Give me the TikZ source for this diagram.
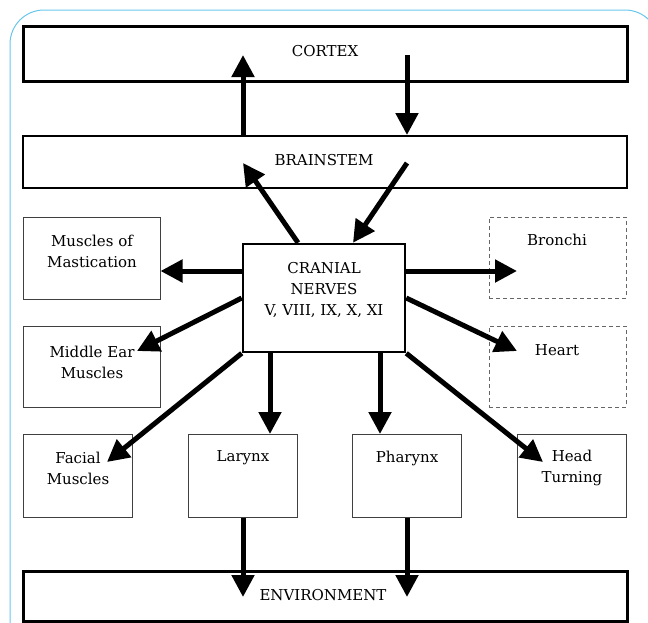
\documentclass[tikz,border=0pt]{standalone}
\usepackage{fontspec}
\setmainfont{DejaVu Serif}
\usetikzlibrary{arrows.meta}
\definecolor{frameblue}{RGB}{105,198,236}
\tikzset{
  box/.style={draw=black!75, line width=1pt, fill=white, inner sep=0pt},
  dashbox/.style={box, draw=black!60, dash pattern=on 4pt off 3pt},
  txt/.style={align=center, inner sep=0pt, font=\fontsize{15}{21}\selectfont},
  arr/.style={line width=5pt, -{Triangle[length=22pt,width=22pt]}}
}

\begin{document}
\begin{tikzpicture}[x=1pt,y=-1pt]
\useasboundingbox (0,0) rectangle (648,622);
\clip (0,0) rectangle (648,622);
\draw[frameblue, line width=1pt, rounded corners=34pt] (10,10) rectangle (659,700);

\node[box, draw=black, line width=3pt, minimum width=604pt, minimum height=55pt] (cortex) at (325,54) {};
\node[box, draw=black, line width=2pt, minimum width=604pt, minimum height=52pt] (bs) at (325,162) {};
\node[box, draw=black, line width=2.5pt, minimum width=162pt, minimum height=108pt] (cn) at (324,298) {};
\node[box, minimum width=137pt, minimum height=82pt] (ms) at (91.5,258) {};
\node[box, minimum width=137pt, minimum height=81pt] (me) at (91.5,366.5) {};
\node[dashbox, minimum width=137pt, minimum height=81pt] (br) at (557.5,257.5) {};
\node[dashbox, minimum width=137pt, minimum height=81pt] (ht) at (557.5,366.5) {};
\node[box, minimum width=109pt, minimum height=83pt] (fm) at (77.5,475.5) {};
\node[box, minimum width=109pt, minimum height=83pt] (lx) at (242.5,475.5) {};
\node[box, minimum width=109pt, minimum height=83pt] (ph) at (406.5,475.5) {};
\node[box, minimum width=109pt, minimum height=83pt] (hd) at (571.5,475.5) {};
\node[box, draw=black, line width=3pt, minimum width=604pt, minimum height=50pt] (env) at (325,596) {};

\node[txt] (cortex-t) at (325,51) {CORTEX};
\node[txt] (bs-t) at (324,160) {BRAINSTEM};
\node[txt] (cn-t) at (324,290) {CRANIAL\\NERVES\\V, VIII, IX, X, XI};
\node[txt] (ms-t) at (92,251) {Muscles of\\Mastication};
\node[txt] (me-t) at (92,362) {Middle Ear\\Muscles};
\node[txt] (br-t) at (557,240) {Bronchi};
\node[txt] (ht-t) at (557,350) {Heart};
\node[txt] (fm-t) at (78,468) {Facial\\Muscles};
\node[txt] (lx-t) at (243,458) {Larynx};
\node[txt] (ph-t) at (407,458) {Pharynx};
\node[txt] (hd-t) at (572,468) {Head\\Turning};
\node[txt] (env-t) at (323,595) {ENVIRONMENT};

\coordinate (up) at (243,55);
\coordinate (down) at (407,55);
\coordinate (bsL) at (243,163);
\coordinate (bsR) at (407,163);
\coordinate (cW) at ([yshift=27pt]cn.west);
\coordinate (cE) at ([yshift=27pt]cn.east);
\coordinate (meT) at (137,351);
\coordinate (htT) at (517,351);
\coordinate (brT) at (517,271);
\coordinate (fmT) at (107,462);
\coordinate (hdT) at (543,462);
\coordinate (lxT) at (270,434);
\coordinate (phT) at (380,434);
\coordinate (envL) at (243,597);
\coordinate (envR) at (407,597);

\draw[arr] (bs.north -| up) -- (up);
\draw[arr] (down) -- (bs.north -| down);
\draw[arr] ([xshift=-26pt]cn.north) -- (bsL);
\draw[arr] (bsR) -- ([xshift=29pt]cn.north);
\draw[arr] (cW) -- (cW -| ms.east);
\draw[arr] ([yshift=-27pt]cW) -- (meT);
\draw[arr] (cE) -- (brT);
\draw[arr] ([yshift=-27pt]cE) -- (htT);
\draw[arr] (cn.south west) -- (fmT);
\draw[arr] (cn.south -| lxT) -- (lxT);
\draw[arr] (cn.south -| phT) -- (phT);
\draw[arr] (cn.south east) -- (hdT);
\draw[arr] (lx.south -| envL) -- (envL);
\draw[arr] (ph.south -| envR) -- (envR);
\end{tikzpicture}
\end{document}
